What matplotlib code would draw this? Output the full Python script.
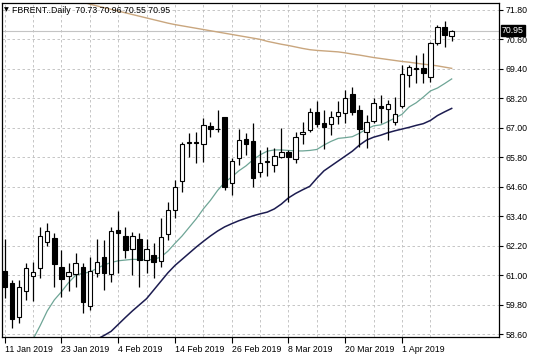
"""FBRENT daily candlestick chart with three moving averages"""
import numpy as np
import pandas as pd
import matplotlib
matplotlib.use("Agg")
import matplotlib.pyplot as plt

plt.rcParams['font.family'] = ['Liberation Sans', 'DejaVu Sans']

# Daily bars, 11 Jan 2019 - 10 Apr 2019 (business days)
dates = pd.bdate_range('2019-01-11', periods=64)

opens = [61.18, 60.70, 59.32, 60.37, 60.98, 61.28, 62.37, 62.53, 61.35, 60.98,
         61.05, 61.35, 59.75, 61.08, 61.73, 61.04, 62.84, 62.60, 62.06, 62.46,
         61.62, 61.83, 61.59, 62.67, 63.66, 64.85, 66.40, 66.42, 66.34, 67.07,
         66.96, 67.43, 64.74, 65.76, 66.55, 66.48, 65.22, 65.61, 65.49, 65.83,
         66.03, 65.72, 66.74, 66.91, 67.63, 67.18, 67.14, 67.49, 67.59, 68.36,
         67.73, 66.84, 67.29, 67.89, 67.75, 67.25, 67.89, 69.15, 69.42, 69.42,
         69.06, 70.44, 71.11, 70.73]
highs = [62.48, 60.81, 60.81, 61.49, 61.55, 62.98, 63.14, 62.71, 62.03, 61.49,
         61.90, 61.51, 61.73, 62.46, 62.44, 62.98, 63.62, 62.98, 62.77, 62.71,
         62.46, 62.30, 63.32, 64.00, 64.88, 66.44, 66.80, 66.84, 67.39, 67.25,
         67.73, 67.45, 65.76, 66.94, 66.78, 67.18, 66.10, 66.21, 66.17, 66.98,
         66.10, 66.84, 67.25, 67.79, 68.10, 67.73, 67.69, 68.10, 68.54, 68.67,
         67.93, 67.52, 68.23, 68.34, 68.13, 68.27, 69.56, 69.56, 69.96, 70.03,
         70.50, 71.18, 71.36, 70.96]
lows = [60.08, 58.87, 59.05, 59.99, 59.97, 60.88, 62.19, 60.51, 60.13, 60.37,
        60.51, 59.45, 59.59, 60.94, 60.40, 60.74, 61.08, 61.69, 61.01, 60.54,
        61.08, 60.88, 61.35, 62.44, 63.32, 64.40, 65.83, 65.58, 65.62, 66.64,
        66.84, 64.47, 64.27, 65.49, 65.89, 64.60, 65.01, 65.04, 65.22, 65.76,
        63.99, 65.58, 66.34, 66.84, 67.05, 66.13, 66.71, 67.16, 67.18, 67.52,
        66.23, 66.17, 67.18, 67.18, 66.50, 67.11, 67.79, 68.67, 68.81, 68.84,
        68.88, 70.37, 70.28, 70.55]
closes = [60.53, 59.22, 60.51, 61.28, 61.15, 62.60, 62.80, 61.45, 60.85, 61.12,
          61.51, 59.93, 61.19, 61.53, 61.11, 62.80, 62.71, 62.03, 62.60, 61.62,
          62.07, 61.55, 62.57, 63.66, 64.58, 66.34, 66.44, 66.40, 67.11, 66.94,
          66.94, 64.60, 65.66, 66.50, 66.34, 64.95, 65.58, 65.65, 65.85, 66.02,
          65.80, 66.64, 66.84, 67.66, 67.16, 67.02, 67.43, 67.66, 68.23, 67.66,
          66.94, 67.25, 68.00, 67.79, 67.97, 67.56, 69.19, 69.49, 69.40, 69.24,
          70.46, 71.09, 70.78, 70.95]

# Moving averages (None = off the visible history)
ma_fast = [None, None, None, None,
           58.40, 58.95, 59.55, 60.00, 60.33, 60.70, 61.00, 61.08, 61.13, 61.28,
           61.42, 61.52, 61.59, 61.62, 61.65, 61.64, 61.62, 61.65, 61.74, 61.98,
           62.30, 62.60, 62.95, 63.30, 63.70, 64.05, 64.45, 64.78, 65.00, 65.25,
           65.45, 65.70, 65.90, 66.05, 66.10, 66.10, 66.08, 66.06, 66.06, 66.08,
           66.12, 66.30, 66.45, 66.57, 66.60, 66.64, 66.78, 66.95, 67.08, 67.12,
           67.25, 67.40, 67.55, 67.85, 68.02, 68.25, 68.50, 68.62, 68.80, 68.99]
ma_mid = [None] * 13 + [
    58.40, 58.55, 58.72, 59.00, 59.28, 59.55, 59.80, 60.05, 60.40, 60.75,
    61.10, 61.40, 61.65, 61.90, 62.15, 62.38, 62.60, 62.80, 62.97, 63.10,
    63.22, 63.32, 63.42, 63.50, 63.57, 63.70, 63.90, 64.15, 64.33, 64.48,
    64.62, 64.95, 65.25, 65.45, 65.65, 65.85, 66.05, 66.30, 66.50, 66.62,
    66.70, 66.80, 66.88, 66.95, 67.02, 67.10, 67.17, 67.30, 67.50, 67.65,
    67.79]
ma_slow = [None] * 11 + [
    72.12, 72.03, 71.96, 71.89, 71.82, 71.75, 71.68, 71.61, 71.54, 71.47,
    71.40, 71.33, 71.26, 71.20, 71.15, 71.10, 71.05, 71.00, 70.95, 70.90,
    70.85, 70.80, 70.75, 70.70, 70.65, 70.60, 70.52, 70.46, 70.40, 70.35,
    70.29, 70.23, 70.18, 70.15, 70.13, 70.11, 70.09, 70.05, 70.00, 69.96,
    69.91, 69.86, 69.82, 69.78, 69.74, 69.70, 69.67, 69.63, 69.59, 69.56,
    69.52, 69.47, 69.42]

price_ticks = [58.60, 59.80, 61.00, 62.20, 63.40, 64.60, 65.80, 67.00,
               68.20, 69.40, 70.60, 71.80]
date_labels = ['11 Jan 2019', '23 Jan 2019', '4 Feb 2019', '14 Feb 2019',
               '26 Feb 2019', '8 Mar 2019', '20 Mar 2019', '1 Apr 2019']
last_price = 70.95
header = 'FBRENT..Daily  70.73 70.96 70.55 70.95'

o = np.array(opens)
h = np.array(highs)
l = np.array(lows)
c = np.array(closes)
x = np.arange(len(dates))

fig = plt.figure(figsize=(5.36, 3.58), dpi=100)
ax = fig.add_axes([0.0037, 0.0587, 0.9273, 0.933])

# grid
grid_kw = dict(color='#bdbdbd', lw=0.6, linestyle=(0, (3, 3)), zorder=0)
for p in price_ticks:
    ax.axhline(p, **grid_kw)
for xi in x[::4]:
    ax.axvline(xi, **grid_kw)

# current price line
ax.axhline(last_price, color='#c4c4c4', lw=0.8, zorder=1)

# moving averages
ax.plot(x, np.array(ma_slow, dtype=float), color='#c9a67e', lw=1.0, zorder=2)
ax.plot(x, np.array(ma_fast, dtype=float), color='#6ea596', lw=0.9, zorder=2)
ax.plot(x, np.array(ma_mid, dtype=float), color='#1c1c50', lw=1.1, zorder=2)

# candles
up = c >= o
ax.vlines(x, l, h, color='black', lw=0.9, zorder=3)
ax.bar(x, np.abs(c - o), bottom=np.minimum(o, c), width=0.62,
       color=np.where(up, 'white', 'black'), edgecolor='black', lw=0.8, zorder=4)

ax.set_xlim(-0.38, 69.67)
ax.set_ylim(58.49, 72.08)

# right price scale
ax.yaxis.tick_right()
ax.set_yticks(price_ticks)
ax.set_yticklabels([f'{p:.2f}' for p in price_ticks])
ax.tick_params(axis='y', length=3, width=0.8, pad=2, labelsize=6.3, direction='out')

# date scale
label_pos = [i for i, d in enumerate(dates)
             if f'{d.day} {d.strftime("%b %Y")}' in date_labels]
ax.set_xticks(label_pos)
ax.set_xticklabels(date_labels, ha='left')
ax.tick_params(axis='x', length=4, width=0.8, pad=2, labelsize=6.3, direction='out')
for lbl in ax.get_xticklabels():
    lbl.set_x(0)

for s in ax.spines.values():
    s.set_color('black')
    s.set_linewidth(0.9)

# last price tag
ax.text(1.006, last_price, f'{last_price:.2f}', transform=ax.get_yaxis_transform(),
        ha='left', va='center', fontsize=6.3, color='white',
        bbox=dict(boxstyle='square,pad=0.12', fc='black', ec='black'), zorder=6)

# header
fig.text(0.008, 0.972, '\u25bc', fontsize=4.5, va='center', ha='left',
         family=['DejaVu Sans'])
fig.text(0.022, 0.972, header, fontsize=6.3, va='center', ha='left')

fig.savefig('out.png', dpi=100)
